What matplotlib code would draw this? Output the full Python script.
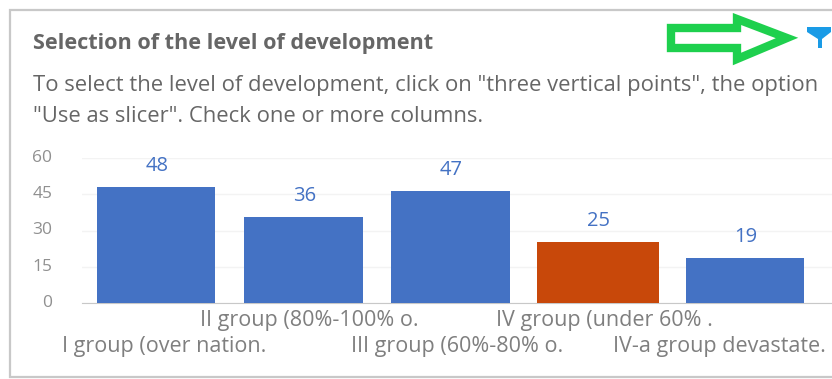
import matplotlib
matplotlib.use("Agg")
import matplotlib.pyplot as plt
from matplotlib.patches import Polygon, Rectangle
from matplotlib.transforms import ScaledTranslation

plt.rcParams['font.family'] = ['Open Sans', 'DejaVu Sans']

groups = ["I group (over nation.", "II group (80%-100% o.", "III group (60%-80% o.",
          "IV group (under 60% .", "IV-a group devastate."]
values = [48, 36, 47, 25, 19]
drawn = [48, 35.6, 46.5, 25.2, 18.6]   # bar heights as drawn, labels are rounded
yticks = [0, 15, 30, 45, 60]
colors = ["#4472c4", "#4472c4", "#4472c4", "#c8480a", "#4472c4"]
widths = [0.805, 0.805, 0.805, 0.83, 0.805]
label_shift = [8, 6, 7, 7, -26]        # px, the labels are not quite centred
label_pad = [23.5, 5, 23.5, 5, 23.5]   # staggered rows

W, H = 832, 379
fig = plt.figure(figsize=(W / 100, H / 100), dpi=100)

# overlay in pixel coordinates for the card and the annotations
bg = fig.add_axes([0, 0, 1, 1], zorder=0)
bg.set_xlim(0, W)
bg.set_ylim(H, 0)
bg.axis("off")
bg.add_patch(Rectangle((10, 10), 840, 367, fc="white", ec="#c8c8c8", lw=1.6))
bg.text(33, 43, "Selection of the level of development", fontsize=15.6, fontweight="bold",
        color="#666666", va="center")
bg.text(33, 85, 'To select the level of development, click on "three vertical points", the option',
        fontsize=15.8, color="#666666", va="center")
bg.text(33, 116, '"Use as slicer". Check one or more columns.', fontsize=15.8, color="#666666", va="center")

arrow = [(671, 28), (737, 28), (737, 19), (787, 38), (737, 59), (737, 48), (671, 48)]
bg.add_patch(Polygon(arrow, closed=True, fc="white", ec="#1ed04e", lw=6, joinstyle="miter"))
funnel = [(807, 27), (831, 27), (831, 32), (822, 39), (822, 48), (818, 48), (818, 39), (807, 32)]
bg.add_patch(Polygon(funnel, closed=True, fc="#1a9be6", ec="none"))

# chart axes, 0 at y=303 and 60 at y=158
x0, x1 = 82, 832
ax = fig.add_axes([x0 / W, (H - 303) / H, (x1 - x0) / W, 145 / H], zorder=1)
ax.patch.set_alpha(0)
pos = range(len(groups))
ax.bar(pos, drawn, width=widths, color=colors, zorder=3)
ax.set_xlim(-0.503, 4.59)
ax.set_ylim(0, 60)
ax.set_yticks(yticks)
ax.set_xticks(list(pos))
ax.set_xticklabels(groups)
ax.grid(axis="y", color="#f3f3f3", lw=1, zorder=0)
ax.tick_params(axis="y", length=0, labelsize=12.5, labelcolor="#909090", pad=21.5)
ax.tick_params(axis="x", length=0, labelsize=15.5, labelcolor="#7f7f7f")
for tick, dx, pad in zip(ax.xaxis.get_major_ticks(), label_shift, label_pad):
    tick.set_pad(pad)
    lab = tick.label1
    lab.set_transform(lab.get_transform() + ScaledTranslation(dx / 100, 0, fig.dpi_scale_trans))
for lab in ax.get_yticklabels():
    lab.set_transform(lab.get_transform() + ScaledTranslation(0, 2 / 100, fig.dpi_scale_trans))
for s in ["top", "right", "left"]:
    ax.spines[s].set_visible(False)
ax.spines["bottom"].set_color("#c8c8c8")
for i, v in enumerate(values):
    ax.annotate(str(v), (i, drawn[i]), xytext=(0.7, 8), textcoords="offset points", ha="center",
                va="bottom", fontsize=14.5, color="#4472c4")

fig.savefig("out.png", dpi=100)
